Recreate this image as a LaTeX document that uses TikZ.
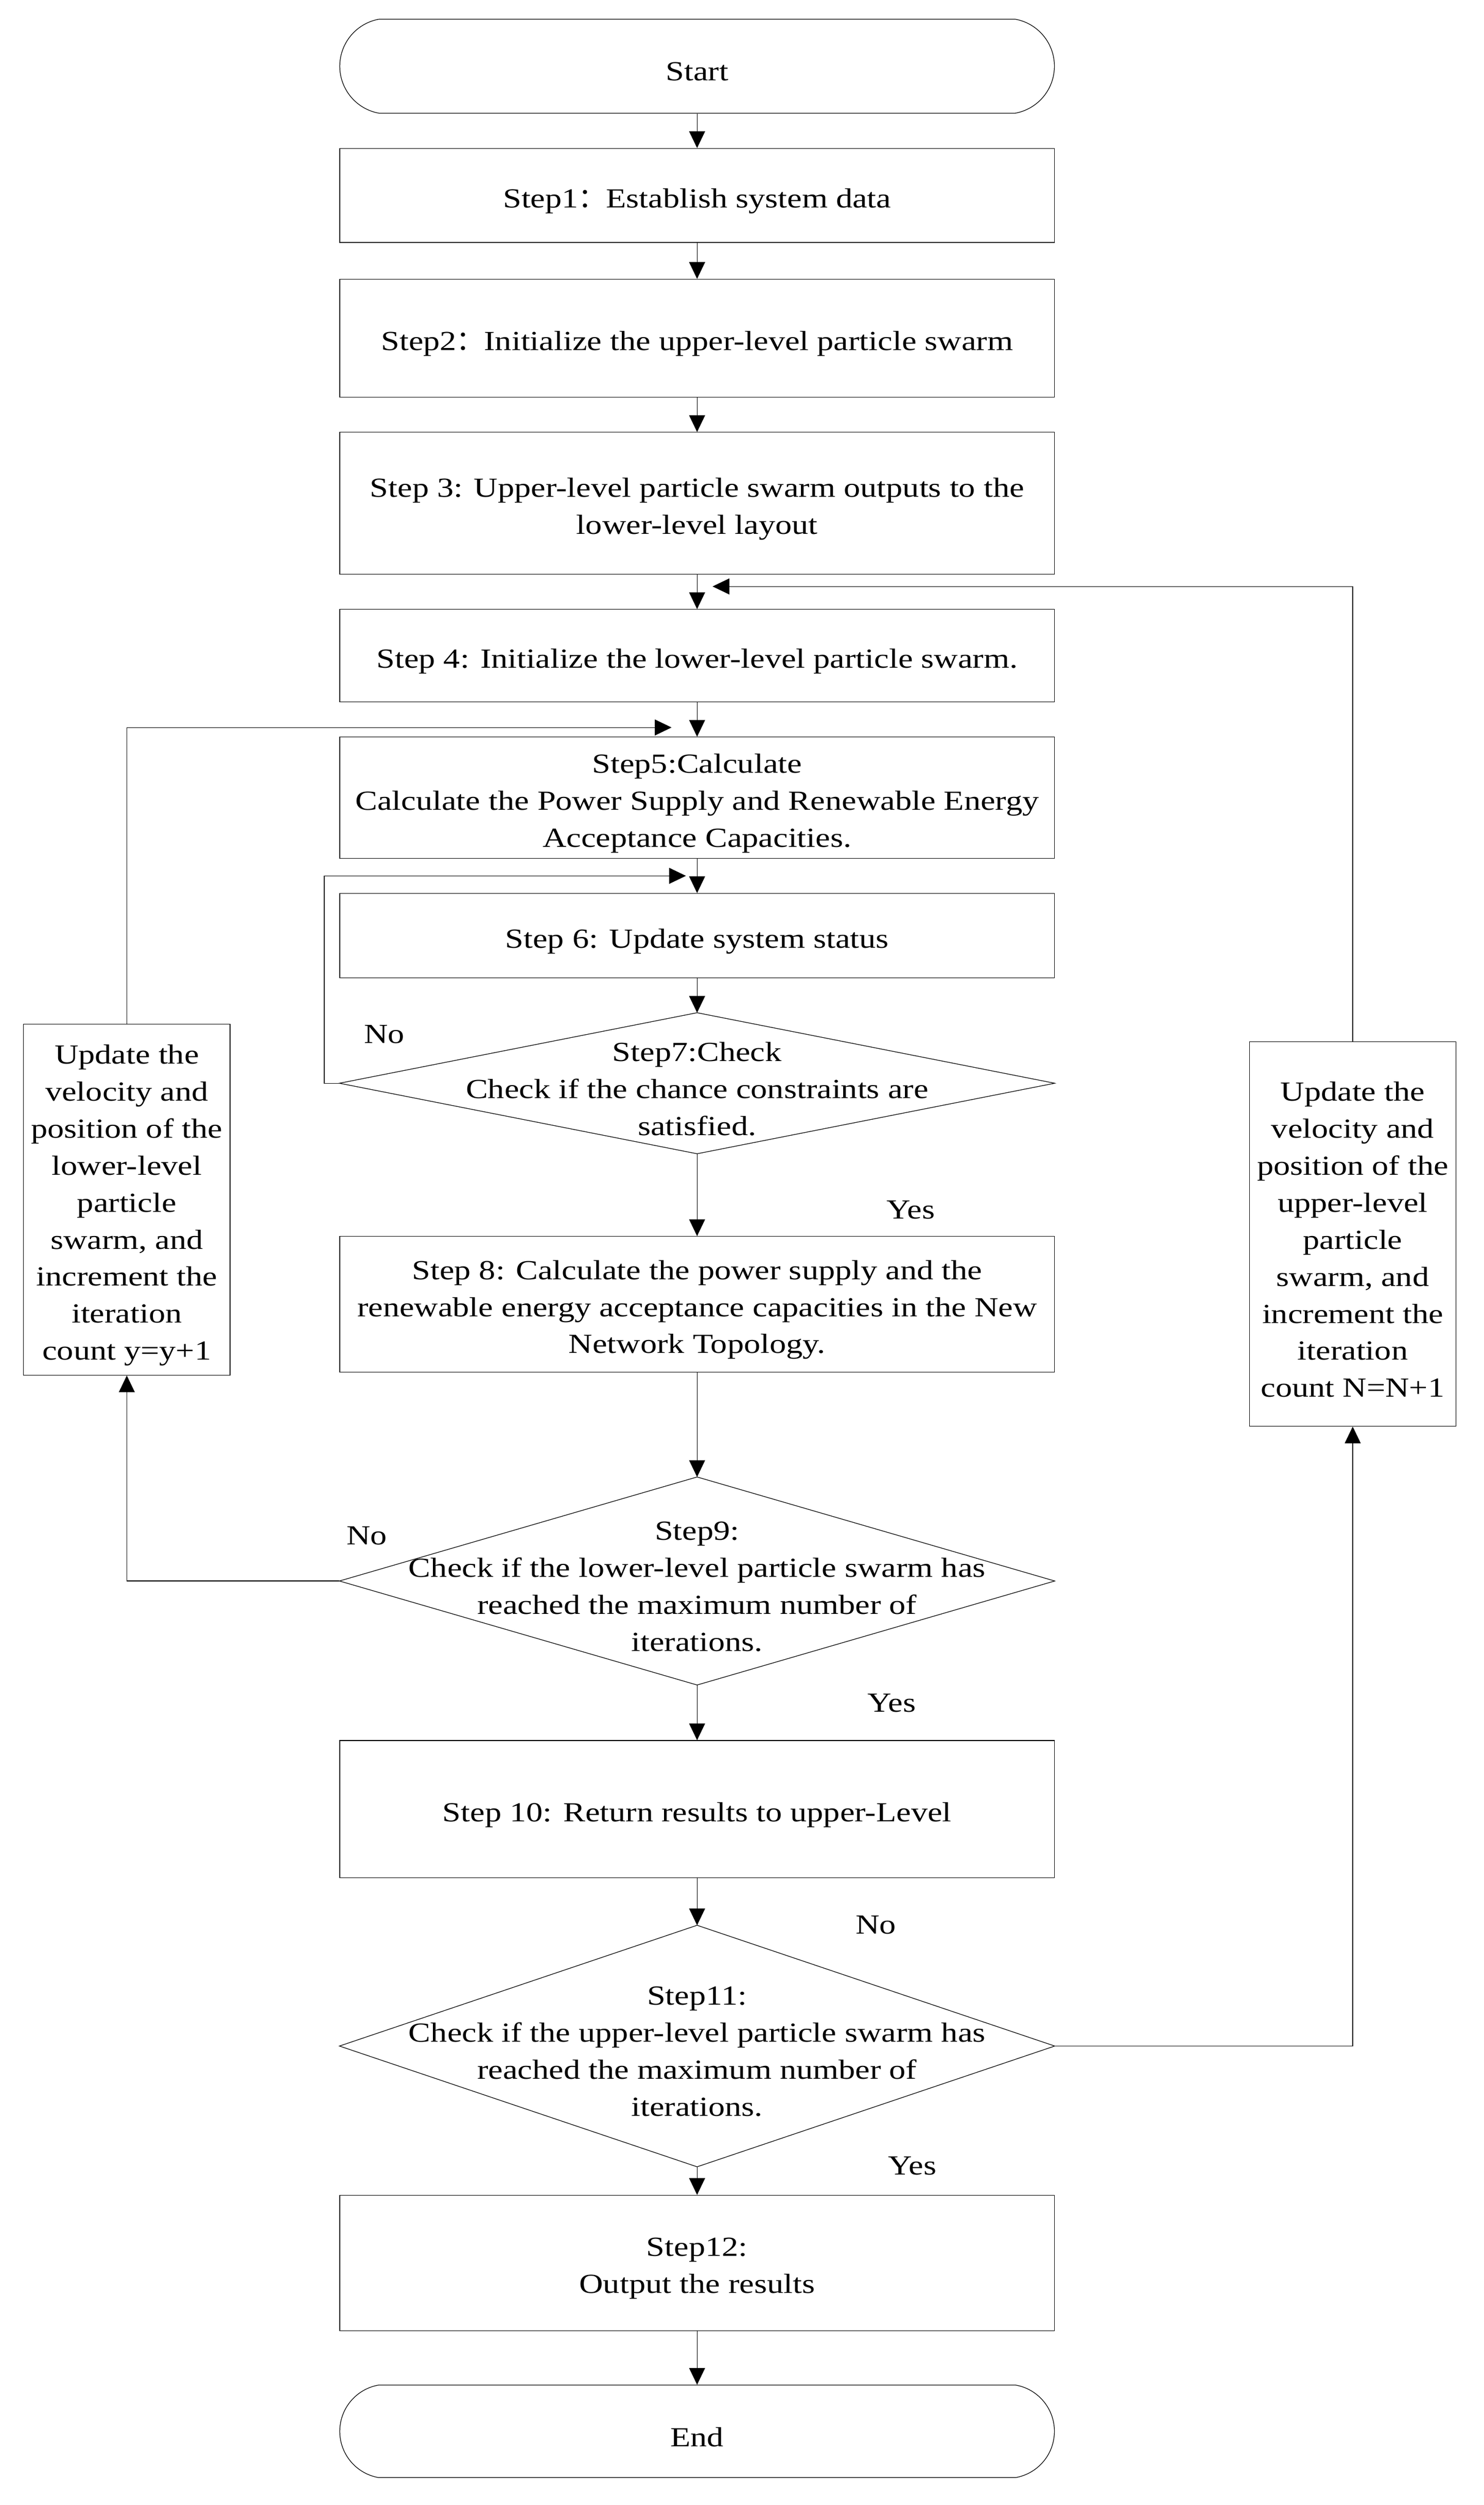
\documentclass[tikz,border=0pt]{standalone}
\usepackage{fontspec}
\setmainfont{Liberation Serif}[FakeStretch=1.2]
\newfontfamily\cjk{Noto Sans CJK SC}
\usetikzlibrary{shapes.misc,arrows.meta}
\begin{document}
\begin{tikzpicture}[x=1pt,y=-1pt,line width=0.4pt,
  >={Triangle[length=10.5pt,width=10pt]},
  every node/.style={font=\fontsize{17.3}{23.2}\selectfont,inner sep=0pt,align=center},
  box/.style={draw,rectangle,minimum width=448pt},
  sbox/.style={draw,rectangle,minimum width=129.5pt},
  term/.style={draw,rounded rectangle,rounded rectangle arc length=160,minimum width=448pt},
  decn/.style={rectangle,minimum width=448pt},
  txt/.style={yshift=-3.5pt},
  lbl/.style={}]
\useasboundingbox (0,0) rectangle (930,1570.2);

% shapes
\node[term,minimum height=59pt] (start) at (437,41.5) {};
\node[box,minimum height=59pt] (s1) at (437,122.5) {};
\node[box,minimum height=74pt] (s2) at (437,212) {};
\node[box,minimum height=89pt] (s3) at (437,315.5) {};
\node[box,minimum height=58pt] (s4) at (437,411) {};
\node[box,minimum height=76pt] (s5) at (437,500) {};
\node[box,minimum height=53pt] (s6) at (437,586.5) {};
\node[decn,minimum height=88pt] (s7) at (437,679) {};
\draw (s7.north) -- (s7.east) -- (s7.south) -- (s7.west) -- cycle;
\node[box,minimum height=85pt] (s8) at (437,817.5) {};
\node[decn,minimum height=130pt] (s9) at (437,991) {};
\draw (s9.north) -- (s9.east) -- (s9.south) -- (s9.west) -- cycle;
\node[box,minimum height=86pt] (s10) at (437,1134) {};
\node[decn,minimum height=151pt] (s11) at (437,1282.5) {};
\draw (s11.north) -- (s11.east) -- (s11.south) -- (s11.west) -- cycle;
\node[box,minimum height=85pt] (s12) at (437,1418.5) {};
\node[term,minimum height=58pt] (end) at (437,1524) {};
\node[sbox,minimum height=220pt] (lbox) at (79.5,752) {};
\node[sbox,minimum height=241pt] (rbox) at (848,773.5) {};

% texts
\node[txt] (startt) at (start) {Start};
\node[txt] (s1t) at (s1) {Step1{\cjk ：}Establish system data};
\node[txt] (s2t) at (s2) {Step2{\cjk ：}Initialize the upper-level particle swarm};
\node[txt] (s3t) at (s3) {Step 3: Upper-level particle swarm outputs to the\\lower-level layout};
\node[txt] (s4t) at (s4) {Step 4: Initialize the lower-level particle swarm.};
\node[txt] (s5t) at (s5) {Step5:Calculate\\Calculate the Power Supply and Renewable Energy\\Acceptance Capacities.};
\node[txt] (s6t) at (s6) {Step 6: Update system status};
\node[txt] (s7t) at (s7) {Step7:Check\\Check if the chance constraints are\\satisfied.};
\node[txt] (s8t) at (s8) {Step 8: Calculate the power supply and the\\renewable energy acceptance capacities in the New\\Network Topology.};
\node[txt] (s9t) at (s9) {Step9:\\Check if the lower-level particle swarm has\\reached the maximum number of\\iterations.};
\node[txt] (s10t) at (s10) {Step 10: Return results to upper-Level};
\node[txt] (s11t) at (s11) {Step11:\\Check if the upper-level particle swarm has\\reached the maximum number of\\iterations.};
\node[txt] (s12t) at (s12) {Step12:\\Output the results};
\node[txt] (endt) at (end) {End};
\node[txt] (lboxt) at (lbox) {Update the\\velocity and\\position of the\\lower-level\\particle\\swarm, and\\increment the\\iteration\\count y=y+1};
\node[txt] (rboxt) at (rbox) {Update the\\velocity and\\position of the\\upper-level\\particle\\swarm, and\\increment the\\iteration\\count N=N+1};

\node[lbl] (no7) at (241,648.5) {No};
\node[lbl] (yes7) at (571,758.5) {Yes};
\node[lbl] (no9) at (230,962.5) {No};
\node[lbl] (yes9) at (559,1067.5) {Yes};
\node[lbl] (no11) at (549,1206.5) {No};
\node[lbl] (yes11) at (572,1357.5) {Yes};

\coordinate (in4) at (446.7,367.6);
\coordinate (in5) at (421,456);
\coordinate (in6) at (430,549);

\draw[->] (start) -- (s1);
\draw[->] (s1) -- (s2);
\draw[->] (s2) -- (s3);
\draw[->] (s3) -- (s4);
\draw[->] (s4) -- (s5);
\draw[->] (s5) -- (s6);
\draw[->] (s6.south) -- (s7.north);
\draw[->] (s7.south) -- (s8.north);
\draw[->] (s8.south) -- (s9.north);
\draw[->] (s9.south) -- (s10.north);
\draw[->] (s10.south) -- (s11.north);
\draw[->] (s11.south) -- (s12.north);
\draw[->] (s12) -- (end);

\draw[->] (s7.west) -- ++(-9.5,0) |- (in6);
\draw[->] (s9.west) -| (lbox.south);
\draw[->] (lbox.north) |- (in5);
\draw[->] (s11.east) -| (rbox.south);
\draw[->] (rbox.north) |- (in4);
\end{tikzpicture}
\end{document}
